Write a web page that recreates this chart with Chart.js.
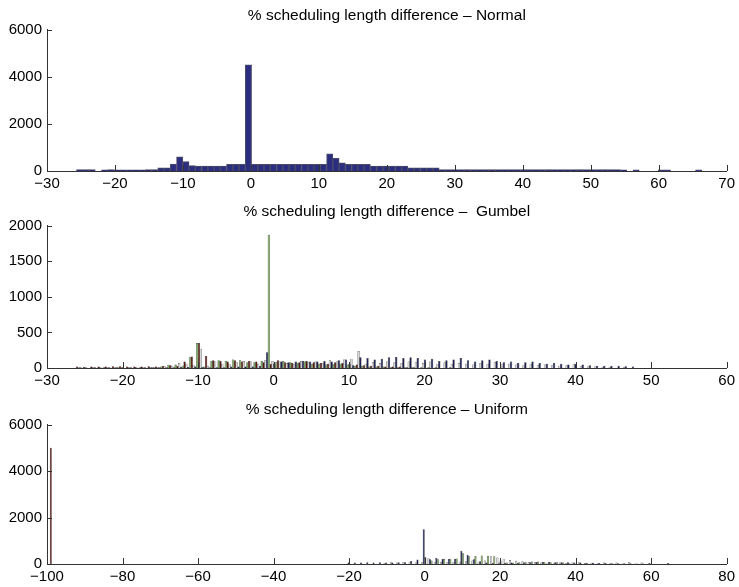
<!DOCTYPE html>
<html><head><meta charset="utf-8">
<script src="https://cdn.jsdelivr.net/npm/chart.js@4"></script>
<style>
html,body{margin:0;padding:0;background:#fff;}
body{width:739px;height:587px;position:relative;overflow:hidden;}
.box{position:absolute;left:0;width:739px;}
</style></head><body>
<div class="box" style="top:0;height:195px"><canvas id="c1"></canvas></div>
<div class="box" style="top:194px;height:198px"><canvas id="c2"></canvas></div>
<div class="box" style="top:392px;height:195px"><canvas id="c3"></canvas></div>
<script>
// ---------- Normal ----------
const normalTitle = '% scheduling length difference \u2013 Normal';
const normalXTicks = [-30, 70, 10];
const normalYTicks = [0, 6000, 2000];
const normalBins = [-25.2,-24.28,-23.36,-22.44,-21.52,-20.6,-19.68,-18.76,-17.84,-16.92,
 -16,-15.08,-14.16,-13.24,-12.32,-11.4,-10.48,-9.56,-8.64,-7.72,
 -6.8,-5.88,-4.96,-4.04,-3.12,-2.2,-1.28,-0.36,0.56,1.48,
 2.4,3.32,4.24,5.16,6.08,7,7.92,8.84,9.76,10.68,
 11.6,12.52,13.44,14.36,15.28,16.2,17.12,18.04,18.96,19.88,
 20.8,21.72,22.64,23.56,24.48,25.4,26.32,27.24,28.16,29.08,
 30,30.92,31.84,32.76,33.68,34.6,35.52,36.44,37.36,38.28,
 39.2,40.12,41.04,41.96,42.88,43.8,44.72,45.64,46.56,47.48,
 48.4,49.32,50.24,51.16,52.08,53,53.92,54.84,55.76,56.68,
 57.6,58.52,59.44,60.36,61.28,62.2,63.12,64.04,64.96,65.88];
const normalCounts = [60,60,60,0,50,60,50,50,50,50,
 50,60,60,130,130,290,605,395,230,210,
 210,210,210,210,280,280,280,4500,280,280,
 280,280,280,280,280,280,280,280,280,280,
 730,535,350,280,280,280,280,210,210,210,
 210,210,210,130,130,130,130,130,65,60,
 60,60,60,55,55,55,55,55,55,55,
 55,55,55,55,55,55,55,55,55,55,
 55,55,55,55,55,55,55,50,0,45,
 0,0,0,45,45,0,0,0,0,45];

// ---------- Gumbel ----------
const gumbelTitle = '% scheduling length difference \u2013  Gumbel';
const gumbelXTicks = [-30, 60, 10];
const gumbelYTicks = [0, 2000, 500];
const gumbelBins = [-26.15,-25.2,-24.25,-23.3,-22.35,-21.4,-20.45,-19.5,-18.55,-17.6,
 -16.65,-15.7,-14.75,-13.8,-12.85,-11.9,-10.95,-10,-9.05,-8.1,
 -7.15,-6.2,-5.25,-4.3,-3.35,-2.4,-1.45,-0.5,0.45,1.4,
 2.35,3.3,4.25,5.2,6.15,7.1,8.05,9,9.95,10.9,
 11.85,12.8,13.75,14.7,15.65,16.6,17.55,18.5,19.45,20.4,
 21.35,22.3,23.25,24.2,25.15,26.1,27.05,28,28.95,29.9,
 30.85,31.8,32.75,33.7,34.65,35.6,36.55,37.5,38.45,39.4,
 40.35,41.3,42.25,43.2,44.15,45.1,46.05,47,47.95];
const gumbelNavy = [0,10,0,10,0,10,10,0,10,0,
 10,10,10,10,10,15,15,20,15,10,
 10,10,20,20,20,20,30,220,60,90,
 80,90,100,90,90,100,90,110,120,40,
 150,140,120,130,150,155,140,150,140,120,
 130,100,110,120,140,110,90,110,120,100,
 80,90,70,80,90,70,60,70,60,50,
 60,50,40,30,30,30,30,25,20];
const gumbelGreen = [0,0,0,0,10,0,10,0,0,10,
 0,10,20,45,50,30,150,350,20,100,
 110,100,120,110,80,80,100,1870,80,100,
 80,70,90,60,60,50,60,60,50,30,
 30,20,20,20,10,10,10,10,0,0,
 0,0,0,0,0,0,0,0,0,0,
 0,0,0,0,0,0,0,0,0,0,
 0,0,0,0,0,0,0,0,0];
const gumbelMaroon = [20,15,20,20,20,25,25,20,20,20,
 25,20,30,40,30,90,160,350,170,110,
 100,90,110,90,100,90,80,60,110,80,
 70,80,100,80,70,60,80,70,60,50,
 40,30,30,20,20,20,10,10,10,10,
 10,0,10,0,0,0,0,0,0,0,
 0,0,0,0,0,0,0,0,0,0,
 0,0,0,0,0,0,0,0,0];
const gumbelGrey = [10,10,10,15,10,10,15,10,15,10,
 15,15,20,30,70,60,40,270,30,90,
 60,60,80,100,90,60,110,100,90,70,
 60,100,80,90,70,110,90,120,130,240,
 60,80,70,90,80,70,90,80,70,90,
 60,80,60,70,60,50,70,60,80,50,
 60,50,40,60,40,50,40,30,40,60,
 30,20,20,10,10,0,10,0,0];

// ---------- Uniform ----------
const uniformTitle = '% scheduling length difference \u2013 Uniform';
const uniformXTicks = [-100, 80, 20];
const uniformYTicks = [0, 6000, 2000];
const uniformBins = [-99.2,-19.52,-17.86,-16.2,-14.54,-12.88,-11.22,-9.56,-7.9,-6.24,
 -4.58,-2.92,-1.26,0.4,2.06,3.72,5.38,7.04,8.7,10.36,
 12.02,13.68,15.34,17,18.66,20.32,21.98,23.64,25.3,26.96,
 28.62,30.28,31.94,33.6,35.26,36.92,38.58,40.24,41.9,43.56,
 45.22,46.88,48.54,50.2,51.86,53.52,55.18,56.84,58.5,60.16,
 61.82,63.48,65.14];
const uniformNavy = [0,60,60,60,70,60,70,60,60,70,
 80,130,190,1500,200,260,230,220,230,570,
 400,200,120,60,40,30,40,60,50,60,
 80,90,90,90,80,80,70,60,60,50,
 50,40,40,35,35,30,30,20,20,50,
 0,0,40];
const uniformGreen = [0,0,0,0,0,0,0,0,0,0,
 0,0,0,300,150,200,220,230,240,460,
 330,340,370,360,330,150,60,50,80,100,
 110,110,100,80,70,60,30,20,0,0,
 0,0,0,0,0,0,0,0,0,0,
 0,0,0];
const uniformMaroon = [5000,0,0,0,0,0,0,0,0,0,
 0,0,0,0,0,0,0,0,0,0,
 0,0,0,0,0,0,0,0,0,0,
 0,0,0,0,0,0,0,0,0,0,
 0,0,0,0,0,0,0,0,0,0,
 0,0,0];
const uniformGrey = [0,0,0,0,0,0,40,80,60,70,
 100,60,80,250,80,100,80,90,100,120,
 150,100,150,330,280,230,170,140,120,90,
 70,60,50,50,60,40,60,70,40,50,
 30,60,30,60,20,70,20,60,0,0,
 0,0,0];

// ---------- styling ----------
const FONT = "'Liberation Sans', Arial, Helvetica, sans-serif";
const AXIS = '#333';
const NAVY = '#1d2052', GREEN = '#76a35a', MAROON = '#5a160e', GREY = '#d6d6d6';

function pts(bins, vals){ return bins.map((b,i)=>({x:b, y: vals[i] > 0 ? vals[i] : null})); }
function fmt(v){ return v < 0 ? '\u2212' + Math.abs(v) : String(v); }

const inwardTicks = {
  id: 'inwardTicks',
  afterDraw(chart){
    const {ctx, chartArea:a, scales:{x, y}} = chart;
    ctx.save(); ctx.strokeStyle = AXIS; ctx.lineWidth = 1; ctx.beginPath();
    x.ticks.forEach(t => { const p = Math.round(x.getPixelForValue(t.value)) + 0.5; ctx.moveTo(p, a.bottom); ctx.lineTo(p, a.bottom - 6); });
    y.ticks.forEach(t => { const p = Math.round(y.getPixelForValue(t.value)) + 0.5; ctx.moveTo(a.left, p); ctx.lineTo(a.left + 5, p); });
    ctx.stroke(); ctx.restore();
  }
};

function make(id, title, xt, yt, datasets, padTop, padBottom, axisH, catPct, barPct){
  return new Chart(document.getElementById(id), {
    type: 'bar',
    data: { datasets },
    options: {
      responsive: true, maintainAspectRatio: false, animation: false,
      layout: { padding: { left: 0, right: 12, top: 0, bottom: 0 } },
      datasets: { bar: { barPercentage: barPct, categoryPercentage: catPct, grouped: true } },
      plugins: {
        legend: { display: false }, tooltip: { enabled: false },
        title: { display: true, text: title, fullSize: false, color: '#000',
          font: { family: FONT, size: 15.5, weight: 'normal' }, padding: { top: padTop, bottom: padBottom } }
      },
      scales: {
        x: { type: 'linear', min: xt[0], max: xt[1], offset: false,
          grid: { display: false, drawTicks: false, offset: false },
          border: { display: true, color: AXIS, width: 1 },
          ticks: { stepSize: xt[2], autoSkip: false, maxRotation: 0, padding: 4, color: '#000',
            font: { family: FONT, size: 15 }, callback: fmt },
          afterFit(s){ s.height = axisH; } },
        y: { type: 'linear', min: yt[0], max: yt[1],
          grid: { display: false, drawTicks: false },
          border: { display: true, color: AXIS, width: 1 },
          ticks: { stepSize: yt[2], padding: 5, color: '#000', font: { family: FONT, size: 15 }, callback: fmt },
          afterFit(s){ s.width = 47; } }
      }
    },
    plugins: [inwardTicks]
  });
}

function ds(bins, vals, color){
  return { data: pts(bins, vals), backgroundColor: color, borderColor: '#222', borderWidth: 0.5 };
}

make('c1', normalTitle, normalXTicks, normalYTicks, [
  { data: pts(normalBins, normalCounts), backgroundColor: '#2b2e7e', borderColor: '#4b4b68', borderWidth: 1 }
], 6, 5, 24, 1, 1);

make('c2', gumbelTitle, gumbelXTicks, gumbelYTicks, [
  ds(gumbelBins, gumbelNavy, NAVY), ds(gumbelBins, gumbelGreen, GREEN),
  ds(gumbelBins, gumbelMaroon, MAROON), ds(gumbelBins, gumbelGrey, GREY)
], 8, 5, 24, 1, 1.3);

make('c3', uniformTitle, uniformXTicks, uniformYTicks, [
  ds(uniformBins, uniformNavy, NAVY), ds(uniformBins, uniformGreen, GREEN),
  ds(uniformBins, uniformMaroon, MAROON), ds(uniformBins, uniformGrey, GREY)
], 8, 6, 23, 1, 1.3);
</script>
</body></html>
